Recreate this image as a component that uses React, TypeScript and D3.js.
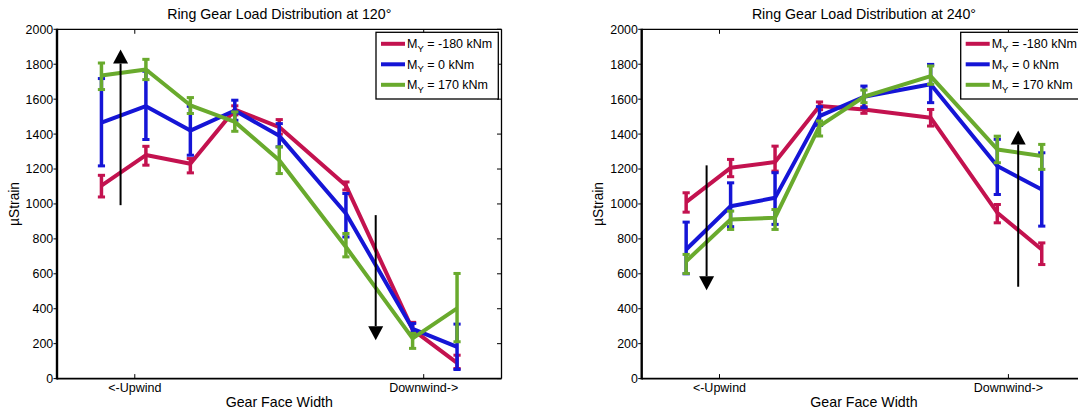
import React from 'react';
import * as d3 from 'd3';

// ---- data ----
const gaugePositions = [0, 1, 2, 3, 4, 5.5, 7, 8];
const xTickValues = [0.75, 7.25];
const xTickLabels = ['<-Upwind', 'Downwind->'];
const yTickValues = [0, 200, 400, 600, 800, 1000, 1200, 1400, 1600, 1800, 2000];
const seriesLabels = ['= -180 kNm', '= 0 kNm', '= 170 kNm'];
const seriesColors = ['#c3124f', '#1515d6', '#69aa2d'];

// 120 deg
const mean120Neg = [1105, 1280, 1230, 1540, 1440, 1105, 280, 90];
const low120Neg = [1040, 1222, 1178, 1510, 1400, 1080, 250, 58];
const high120Neg = [1164, 1330, 1260, 1562, 1483, 1126, 322, 134];
const mean120Zero = [1465, 1560, 1420, 1535, 1390, 945, 285, 182];
const low120Zero = [1218, 1369, 1279, 1479, 1327, 811, 260, 52];
const high120Zero = [1718, 1760, 1559, 1594, 1460, 1060, 316, 312];
const mean120Pos = [1735, 1770, 1565, 1470, 1250, 754, 230, 402];
const low120Pos = [1655, 1712, 1518, 1416, 1174, 697, 173, 211];
const high120Pos = [1807, 1828, 1609, 1527, 1327, 831, 259, 602];

// 240 deg
const mean240Neg = [1010, 1207, 1240, 1561, 1541, 1494, 950, 739];
const low240Neg = [953, 1156, 1188, 1540, 1519, 1446, 892, 653];
const high240Neg = [1064, 1255, 1331, 1584, 1557, 1541, 997, 777];
const mean240Zero = [739, 987, 1035, 1503, 1614, 1685, 1217, 1083];
const low240Zero = [600, 870, 883, 1450, 1551, 1580, 1054, 873];
const high240Zero = [896, 1121, 1179, 1557, 1675, 1799, 1370, 1293];
const mean240Pos = [672, 911, 921, 1446, 1614, 1732, 1312, 1274];
const low240Pos = [602, 854, 854, 1389, 1580, 1685, 1236, 1198];
const high240Pos = [711, 959, 968, 1475, 1652, 1790, 1388, 1341];

// arrows: x position, start value, end value (tip)
const arrows120 = [
  { x: 0.43, from: 993, to: 1884 },
  { x: 6.17, from: 936, to: 220 },
];
const arrows240 = [
  { x: 0.46, from: 1221, to: 506 },
  { x: 7.47, from: 526, to: 1421 },
];

const FONT = '"Liberation Sans", Arial, Helvetica, sans-serif';

type Series = { mean: number[]; low: number[]; high: number[] };
type Arrow = { x: number; from: number; to: number };

function Panel(props: {
  x0: number; x1: number; title: string; series: Series[]; arrows: Arrow[];
}) {
  const { x0, x1, title, series, arrows } = props;
  const top = 29.3, bottom = 378.6;
  const x = d3.scaleLinear().domain([-1, 9]).range([x0, x1]);
  const y = d3.scaleLinear().domain([0, 2000]).range([bottom, top]);
  const line = d3.line<number>().x((_, i) => x(gaugePositions[i])).y((d) => y(d));
  const cx = (x0 + x1) / 2;
  const cy = (top + bottom) / 2;
  const legX = x1 - 125.5, legY = top + 3;
  const rowOff = [11.5, 32, 52.5];
  return (
    <g fontFamily={FONT} fill="#000">
      {/* series */}
      {series.map((s, si) => (
        <g key={si} stroke={seriesColors[si]} fill="none">
          <path d={line(s.mean) || ''} strokeWidth={4} strokeLinejoin="round" />
          {s.mean.map((_, i) => {
            const px = x(gaugePositions[i]);
            return (
              <g key={i}>
                <line x1={px} x2={px} y1={y(s.low[i])} y2={y(s.high[i])} strokeWidth={3.5} />
                <line x1={px - 3.6} x2={px + 3.6} y1={y(s.low[i])} y2={y(s.low[i])} strokeWidth={3} />
                <line x1={px - 3.6} x2={px + 3.6} y1={y(s.high[i])} y2={y(s.high[i])} strokeWidth={3} />
              </g>
            );
          })}
        </g>
      ))}
      {/* arrows */}
      {arrows.map((a, i) => {
        const ax = x(a.x);
        const yTip = y(a.to);
        const yFrom = y(a.from);
        const dir = yTip < yFrom ? 1 : -1; // 1 = pointing up
        const headLen = 14, headHalf = 7.5;
        const base = yTip + dir * headLen;
        return (
          <g key={i}>
            <line x1={ax} x2={ax} y1={yFrom} y2={base} stroke="#000" strokeWidth={2} />
            <path d={`M${ax},${yTip} L${ax - headHalf},${base} L${ax + headHalf},${base} Z`} fill="#000" />
          </g>
        );
      })}
      {/* frame */}
      <line x1={x0} x2={x1} y1={top} y2={top} stroke="#000" strokeWidth={1.3} />
      <line x1={x1} x2={x1} y1={top} y2={bottom} stroke="#000" strokeWidth={1.3} />
      <line x1={x0} x2={x1} y1={bottom} y2={bottom} stroke="#000" strokeWidth={1.7} />
      <line x1={x0} x2={x0} y1={top - 0.6} y2={bottom + 0.8} stroke="#000" strokeWidth={2.4} />
      {/* y ticks */}
      {yTickValues.map((v) => (
        <g key={v}>
          <line x1={x0 - 3.5} x2={x0} y1={y(v)} y2={y(v)} stroke="#000" strokeWidth={1} />
          <line x1={x1 - 4.5} x2={x1} y1={y(v)} y2={y(v)} stroke="#000" strokeWidth={1} />
          <text x={x0 - 3.8} y={y(v)} dy="0.36em" textAnchor="end" fontSize={12.4}>{v}</text>
        </g>
      ))}
      {/* x ticks */}
      {xTickValues.map((v, i) => (
        <g key={v}>
          <line x1={x(v)} x2={x(v)} y1={bottom} y2={bottom - 4.5} stroke="#000" strokeWidth={1} />
          <line x1={x(v)} x2={x(v)} y1={top} y2={top + 4.5} stroke="#000" strokeWidth={1} />
          <text x={x(v)} y={391.6} textAnchor="middle" fontSize={12.5}>{xTickLabels[i]}</text>
        </g>
      ))}
      {/* labels */}
      <text x={cx} y={18.6} textAnchor="middle" fontSize={14.2}>{title}</text>
      <text x={cx} y={407.3} textAnchor="middle" fontSize={14.2}>Gear Face Width</text>
      <text transform={`translate(${x0 - 38.5},${cy}) rotate(-90)`} textAnchor="middle" fontSize={13.8}>µStrain</text>
      {/* legend */}
      <rect x={legX} y={legY} width={122.3} height={66.7} fill="#fff" stroke="#000" strokeWidth={1.3} />
      {seriesLabels.map((lab, i) => {
        const ly = legY + rowOff[i];
        return (
          <g key={i}>
            <line x1={legX + 5} x2={legX + 29} y1={ly} y2={ly} stroke={seriesColors[i]} strokeWidth={4} />
            <text x={legX + 31} y={ly + 4.6} fontSize={12.5}>
              M<tspan fontSize={9.5} dy={3.5}>Y</tspan><tspan dy={-3.5}>{' ' + lab}</tspan>
            </text>
          </g>
        );
      })}
    </g>
  );
}

export default function App() {
  const s120: Series[] = [
    { mean: mean120Neg, low: low120Neg, high: high120Neg },
    { mean: mean120Zero, low: low120Zero, high: high120Zero },
    { mean: mean120Pos, low: low120Pos, high: high120Pos },
  ];
  const s240: Series[] = [
    { mean: mean240Neg, low: low240Neg, high: high240Neg },
    { mean: mean240Zero, low: low240Zero, high: high240Zero },
    { mean: mean240Pos, low: low240Pos, high: high240Pos },
  ];
  return (
    <svg width={1078} height={414} style={{ position: 'absolute', left: 0, top: 0, background: '#fff' }}>
      <rect width={1078} height={414} fill="#fff" />
      <Panel x0={57} x1={501.5} title="Ring Gear Load Distribution at 120°" series={s120} arrows={arrows120} />
      <Panel x0={641.7} x1={1086.2} title="Ring Gear Load Distribution at 240°" series={s240} arrows={arrows240} />
    </svg>
  );
}
